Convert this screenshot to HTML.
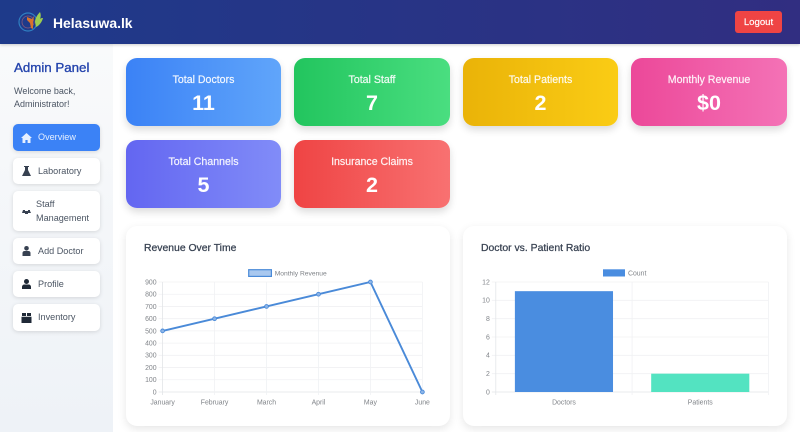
<!DOCTYPE html>
<html lang="en">
<head>
<meta charset="utf-8">
<title>Helasuwa.lk Admin</title>
<style>
*{box-sizing:border-box}
html,body{margin:0;padding:0;width:800px;height:432px;overflow:hidden;background:#fff;font-family:"Liberation Sans",sans-serif}
#header{position:absolute;left:0;top:0;width:800px;height:44px;background:linear-gradient(90deg,#1e3a8a,#312e81);box-shadow:0 1px 3px rgba(0,0,0,.2);z-index:3}
#logo{position:absolute;left:18px;top:10px}
#brand{position:absolute;left:53px;top:14px;font-size:13.9px;line-height:18px;font-weight:700;color:#fff}
#logout{position:absolute;left:735px;top:11px;width:47px;height:22px;border-radius:3px;background:#ef4444;color:#fff;font-size:9.6px;line-height:23px;text-align:center;-webkit-text-stroke:.15px #fff}
#sidebar{position:absolute;left:0;top:44px;width:113px;height:388px;background:linear-gradient(180deg,#f9fafb,#eef2f7)}
#panel-title{position:absolute;left:14px;top:15px;font-size:13.3px;line-height:17px;color:#2545ad;-webkit-text-stroke:.35px #2545ad}
#welcome{position:absolute;left:14px;top:40.5px;font-size:9px;line-height:13.5px;color:#4b5563}
.nav{position:absolute;left:13px;width:87px;background:#fff;border-radius:5px;box-shadow:0 1px 4px rgba(0,0,0,.13);font-size:9.1px;color:#4b5563;display:flex;align-items:center;line-height:13.5px}
.nav svg{position:absolute;left:8px;top:50%;margin-top:-5px}
.nav span{position:absolute;left:25px;margin-top:1px}
.nav.active{background:#3b82f6;color:#e5efff}
.card{position:absolute;height:68px;border-radius:11px;color:#fff;text-align:center;box-shadow:0 4px 8px rgba(0,0,0,.14)}
.card .lbl{position:absolute;left:0;right:0;top:14.5px;font-size:10.6px;line-height:14px;opacity:.92;-webkit-text-stroke:.2px #fff}
.card .val{position:absolute;left:0;right:0;top:32px;font-size:21.5px;line-height:26px;font-weight:700}
.panel{position:absolute;top:226px;width:324px;height:200px;background:#fff;border-radius:11px;box-shadow:0 3px 9px rgba(0,0,0,.1)}
.panel h3{position:absolute;left:18px;top:15.500px;margin:0;font-size:10.4px;line-height:14px;font-weight:400;color:#374151;-webkit-text-stroke:.25px #374151}
#charts{position:absolute;left:0;top:0}
</style>
</head>
<body>
<div id="header">
  <svg id="logo" width="26" height="24" viewBox="0 0 26 24">
    <circle cx="10" cy="12" r="9" fill="none" stroke="#2f7fc1" stroke-width="1.2"/>
    <circle cx="10" cy="12" r="6" fill="none" stroke="#8a5a7a" stroke-width=".8"/>
    <path d="M9 7l5 2 2-3-1 6 0 7-2-1-1-5-3-3z" fill="#d9722c"/>
    <path d="M17 12c0-4 3-8 5-10 1 2 1 5 0 7 1-1 2-1 3-1-1 4-4 8-7 9z" fill="#9ccc50"/>
  </svg>
  <div id="brand">Helasuwa.lk</div>
  <div id="logout">Logout</div>
</div>

<div id="sidebar">
  <div id="panel-title">Admin Panel</div>
  <div id="welcome">Welcome back,<br>Administrator!</div>
</div>
<div class="nav active" style="top:124px;height:27px">
  <svg width="11" height="10" viewBox="0 0 11 10"><path d="M5.5 0L11 5H9.5v5H6.6V7H4.4v3H1.5V5H0z" fill="#e5efff"/></svg>
  <span style="left:25px">Overview</span>
</div>
<div class="nav" style="top:158px;height:26px">
  <svg width="11" height="10" viewBox="0 0 11 10"><path d="M3 0h5v1H7v3l3 6H1l3-6V1H3z" fill="#374151"/></svg>
  <span>Laboratory</span>
</div>
<div class="nav" style="top:191px;height:40px">
  <svg width="9" height="10" viewBox="0 0 9 10" style="left:9px"><path d="M1 4h2v1h3V4h2v1l1 2H0zM3 7h3v1H3z" fill="#374151"/></svg>
  <span style="left:23px">Staff<br>Management</span>
</div>
<div class="nav" style="top:238px;height:26px">
  <svg width="11" height="10" viewBox="0 0 11 10"><circle cx="5.5" cy="2.3" r="2.3" fill="#374151"/><path d="M1.5 10V7c0-1.300 1-2 2-2h4c1 0 2 .7 2 2v3z" fill="#374151"/></svg>
  <span>Add Doctor</span>
</div>
<div class="nav" style="top:271px;height:26px">
  <svg width="11" height="10" viewBox="0 0 11 10"><circle cx="5.500" cy="2.500" r="2.500" fill="#1f2937"/><path d="M1 10V8c0-1.500 1-2.500 2.500-2.500h4C9 5.500 10 6.500 10 8v2z" fill="#1f2937"/></svg>
  <span>Profile</span>
</div>
<div class="nav" style="top:304px;height:27px">
  <svg width="11" height="10" viewBox="0 0 11 10"><path d="M1 0h4v3H1zM6 0h4v3H6zM.5 3.800h10V10H.5z" fill="#1f2937"/></svg>
  <span>Inventory</span>
</div>

<div class="card" style="left:126px;top:58px;width:155px;background:linear-gradient(90deg,#3b82f6,#60a5fa)"><div class="lbl">Total Doctors</div><div class="val">11</div></div>
<div class="card" style="left:294px;top:58px;width:156px;background:linear-gradient(90deg,#22c55e,#4ade80)"><div class="lbl">Total Staff</div><div class="val">7</div></div>
<div class="card" style="left:463px;top:58px;width:155px;background:linear-gradient(90deg,#eab308,#facc15)"><div class="lbl">Total Patients</div><div class="val">2</div></div>
<div class="card" style="left:631px;top:58px;width:156px;background:linear-gradient(90deg,#ec4899,#f472b6)"><div class="lbl">Monthly Revenue</div><div class="val">$0</div></div>
<div class="card" style="left:126px;top:140px;width:155px;background:linear-gradient(90deg,#6366f1,#818cf8)"><div class="lbl">Total Channels</div><div class="val">5</div></div>
<div class="card" style="left:294px;top:140px;width:156px;background:linear-gradient(90deg,#ef4444,#f87171)"><div class="lbl">Insurance Claims</div><div class="val">2</div></div>

<div class="panel" style="left:126px"><h3>Revenue Over Time</h3></div>
<div class="panel" style="left:463px"><h3>Doctor vs. Patient Ratio</h3></div>

<svg id="charts" width="800" height="432" viewBox="0 0 800 432"></svg>

<script>
var months = ['January', 'February', 'March', 'April', 'May', 'June'];
var revenueValues = [500, 600, 700, 800, 900, 0];
var revenueTicks = [0, 100, 200, 300, 400, 500, 600, 700, 800, 900];
var ratioCategories = ['Doctors', 'Patients'];
var ratioValues = [11, 2];
var ratioTicks = [0, 2, 4, 6, 8, 10, 12];
var ratioColors = ['#4a8de0', '#53e3c1'];

var NS = 'http://www.w3.org/2000/svg';
var svg = document.getElementById('charts');
var GRID = '#f0f1f3';
var AXIS = '#e3e5e8';
var TXT = '#808489';
var plotTop = 282;
var plotBottom = 392;

function add(tag, attrs, text) {
  var el = document.createElementNS(NS, tag);
  for (var k in attrs) el.setAttribute(k, attrs[k]);
  if (text !== undefined) el.textContent = text;
  svg.appendChild(el);
  return el;
}
function makeY(max) {
  return function (v) { return plotBottom - (v / max) * (plotBottom - plotTop); };
}
function gridLine(x1, y1, x2, y2, color) {
  var el = add('line', { x1: x1, y1: y1, x2: x2, y2: y2, stroke: color, 'stroke-width': 0.8 });
  
  
}
function tickText(x, y, anchor, s) {
  var el = add('text', { x: x, y: y, 'text-anchor': anchor, 'font-size': 6.9, fill: TXT, 'font-family': '"Liberation Sans",sans-serif' }, s);
  
  
}

/* Revenue line chart */
var lineLeft = 162.6;
var lineRight = 422.4;
var lineY = makeY(revenueTicks[revenueTicks.length - 1]);
function lineX(i) { return lineLeft + i * (lineRight - lineLeft) / (months.length - 1); }

revenueTicks.forEach(function (t) {
  gridLine(lineLeft - 4, lineY(t), lineRight, lineY(t), t === 0 ? AXIS : GRID);
  tickText(lineLeft - 6, lineY(t) + 2.4, 'end', String(t));
});
months.forEach(function (m, i) {
  gridLine(lineX(i), plotTop, lineX(i), plotBottom + 3, i === 0 ? AXIS : GRID);
  tickText(lineX(i), 404.5, 'middle', m);
});
var linePts = revenueValues.map(function (v, i) { return lineX(i).toFixed(2) + ',' + lineY(v).toFixed(2); }).join(' ');
var revLine = add('polyline', { points: linePts, fill: 'none', stroke: '#4a8ad8', 'stroke-width': 1.9 });


revenueValues.forEach(function (v, i) {
  var p = add('circle', { cx: lineX(i), cy: lineY(v), r: 1.9, fill: '#8db5e8', stroke: '#4a8ad8', 'stroke-width': 0.9 });
  
  
});
var lineSwatch = add('rect', { x: 248.7, y: 269.7, width: 22.700, height: 6.700, fill: '#a9c8ef', stroke: '#4a8ad8', 'stroke-width': 1.2 });


var lineLegend = add('text', { x: 274.7, y: 275.5, 'font-size': 6.7, fill: TXT, 'font-family': '"Liberation Sans",sans-serif' }, 'Monthly Revenue');



/* Doctor vs patient bar chart */
var barLeft = 495.8;
var barRight = 768.4;
var barY = makeY(ratioTicks[ratioTicks.length - 1]);
var band = (barRight - barLeft) / ratioCategories.length;
var barW = band * 0.72;

ratioTicks.forEach(function (t) {
  gridLine(barLeft - 4, barY(t), barRight, barY(t), t === 0 ? AXIS : GRID);
  tickText(barLeft - 6, barY(t) + 2.4, 'end', String(t));
});
for (var gi = 0; gi <= ratioCategories.length; gi++) {
  gridLine(barLeft + gi * band, plotTop, barLeft + gi * band, plotBottom + 3, gi === 0 ? AXIS : GRID);
}
ratioCategories.forEach(function (c, i) {
  var cx = barLeft + (i + 0.5) * band;
  var r = add('rect', { x: cx - barW / 2, y: barY(ratioValues[i]), width: barW, height: plotBottom - barY(ratioValues[i]), fill: ratioColors[i] });
  
  
  tickText(cx, 404.5, 'middle', c);
});
var barSwatch = add('rect', { x: 603, y: 269.3, width: 22, height: 7.200, fill: '#4a8de0' });


var barLegend = add('text', { x: 628, y: 275.5, 'font-size': 6.9, fill: TXT, 'font-family': '"Liberation Sans",sans-serif' }, 'Count');


</script>
</body>
</html>
